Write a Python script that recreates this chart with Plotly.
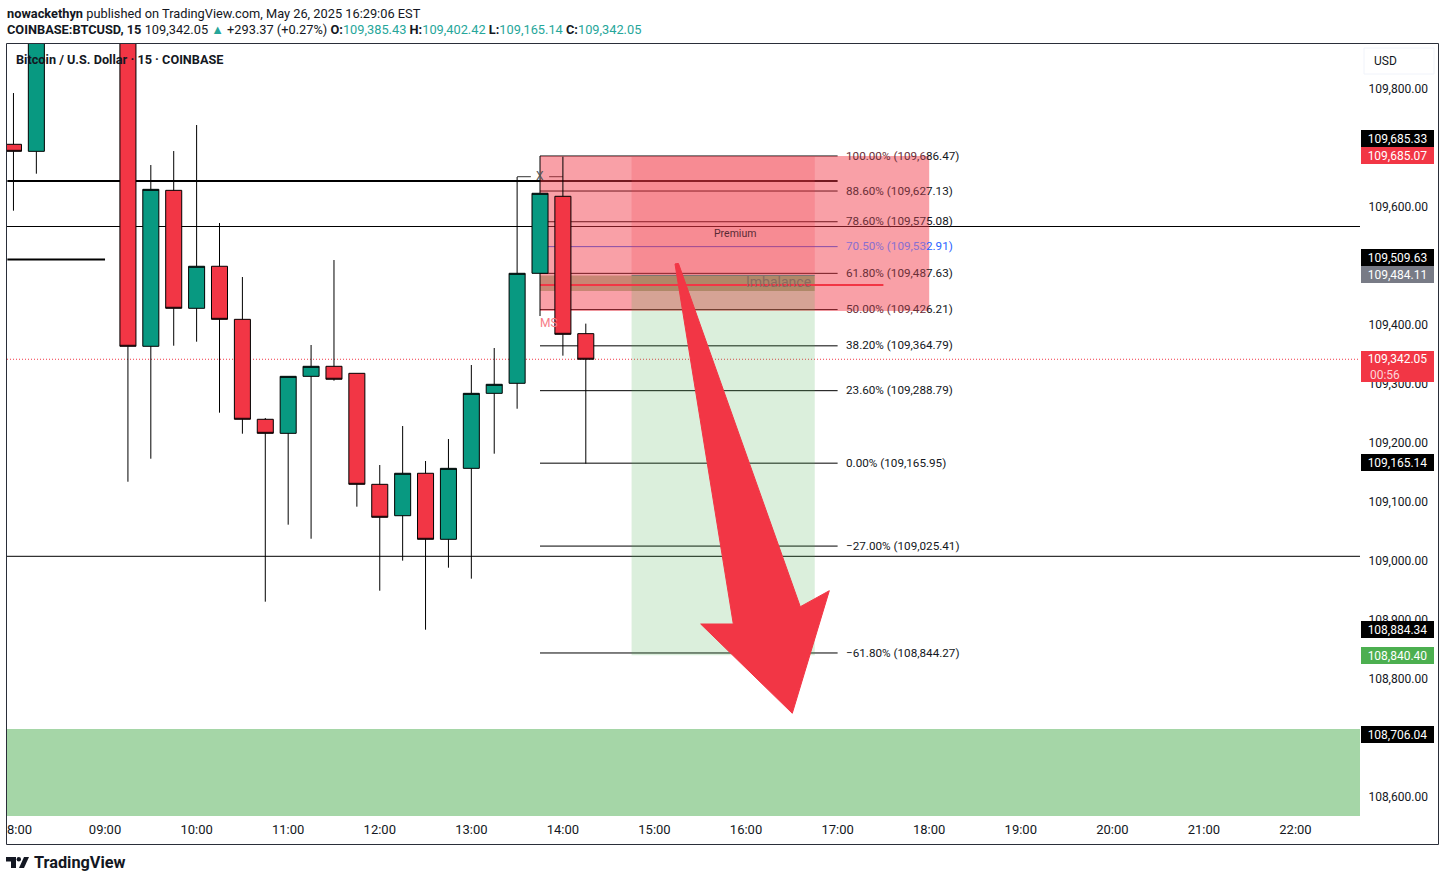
import plotly.graph_objects as go

# =========================
# DATA
# =========================
day = "2025-05-26 "
times = ["08:00", "08:15", "09:15", "09:30", "09:45", "10:00", "10:15", "10:30", "10:45",
         "11:00", "11:15", "11:30", "11:45", "12:00", "12:15", "12:30", "12:45",
         "13:00", "13:15", "13:30", "13:45", "14:00", "14:15"]
opens = [109706.3, 109694.4, 110050.0, 109364.0, 109628.3, 109428.4, 109499.6, 109409.7, 109240.3,
         109216.5, 109313.1, 109330.1, 109318.2, 109130.1, 109076.9, 109148.8, 109036.9,
         109157.2, 109284.3, 109301.3, 109487.7, 109618.2, 109385.43]
highs = [109793.2, 109990.0, 110080.0, 109671.2, 109694.9, 109739.0, 109572.9, 109481.4, 109242.5,
         109313.1, 109366.2, 109510.2, 109318.2, 109162.8, 109228.9, 109169.6, 109206.9,
         109332.3, 109361.1, 109650.9, 109686.5, 109685.3, 109402.42]
lows = [109593.8, 109656.5, 109134.5, 109173.5, 109365.0, 109371.8, 109251.5, 109215.9, 108931.2,
        109061.7, 109037.9, 109305.7, 109092.2, 108949.8, 109000.7, 108883.7, 108988.8,
        108970.2, 109182.0, 109258.2, 109415.3, 109348.1, 109165.14]
closes = [109694.4, 109960.0, 109364.0, 109630.0, 109428.4, 109499.6, 109409.7, 109240.3, 109216.5,
          109313.1, 109330.1, 109308.1, 109130.1, 109074.2, 109148.8, 109036.9, 109157.2,
          109284.3, 109299.6, 109487.7, 109623.3, 109384.3, 109342.05]

price_ticks = [109800, 109600, 109400, 109300, 109200, 109100, 109000, 108900, 108800, 108600]
time_ticks = ["09:00", "10:00", "11:00", "12:00", "13:00", "14:00", "15:00", "16:00",
              "17:00", "18:00", "19:00", "20:00", "21:00", "22:00"]

fib_levels = ["100.00%", "88.60%", "78.60%", "70.50%", "61.80%", "50.00%", "38.20%",
              "23.60%", "0.00%", "\u221227.00%", "\u221261.80%"]
fib_prices = [109686.47, 109627.13, 109575.08, 109532.91, 109487.63, 109426.21, 109364.79,
              109288.79, 109165.95, 109025.41, 108844.27]

stop_price = 109685.07
entry_price = 109484.11
target_price = 108840.40
last_price = 109342.05

side_labels = ["109,685.33", "109,685.07", "109,509.63", "109,484.11", "109,165.14",
               "108,884.34", "108,840.40", "108,706.04"]
side_colors = ["#000000", "#f23645", "#000000", "#787b86", "#000000",
               "#000000", "#4caf50", "#000000"]
side_rows = [139, 156, 258, 275, 463, 630, 656, 735]

# =========================
# SCALES
# =========================
L, R, T, B = 7, 1360, 44, 816
FONT = "Roboto"


def px(x):
    return (x - L) / (R - L)


def py(y):
    return (B - y) / (B - T)


def t(hhmm):
    return day + hhmm


fig = go.Figure()
fig.add_trace(go.Candlestick(
    x=[t(v) for v in times], open=opens, high=highs, low=lows, close=closes,
    increasing=dict(fillcolor="#089981", line=dict(color="#000000", width=1)),
    decreasing=dict(fillcolor="#f23645", line=dict(color="#000000", width=1)),
    whiskerwidth=0, hoverinfo="skip", showlegend=False,
))

shapes = []


def hline(price, x0=None, x1=None, color="#000000", width=1, dash="solid", layer="below"):
    if x0 is None:
        shapes.append(dict(type="line", xref="paper", yref="y", x0=0, x1=1, y0=price, y1=price,
                           line=dict(color=color, width=width, dash=dash), layer=layer))
    else:
        shapes.append(dict(type="line", xref="x", yref="y", x0=t(x0), x1=t(x1), y0=price, y1=price,
                           line=dict(color=color, width=width, dash=dash), layer=layer))


def box(x0, x1, y0, y1, fill, layer="below"):
    shapes.append(dict(type="rect", xref="x", yref="y", x0=t(x0), x1=t(x1), y0=y0, y1=y1,
                       fillcolor=fill, line=dict(width=0), layer=layer))


# green zone at the bottom
shapes.append(dict(type="rect", xref="paper", yref="y", x0=0, x1=1, y0=108715.5, y1=108568,
                   fillcolor="#a5d6a7", line=dict(width=0), layer="below"))

# horizontal levels
hline(109567.0)
hline(109008.1)
hline(109644.1, "07:56", "17:00", width=2)
hline(109511.0, "07:56", "09:00", width=2)
hline(last_price, color="#f23645", dash="1px,2px")
hline(109651.4, "13:30", "13:39", color="#333333")
hline(109651.4, "13:51", "14:00", color="#333333")

# fib lines
for lvl, price in zip(fib_levels, fib_prices):
    hline(price, "13:45", "17:00", color="#2962ff" if lvl == "70.50%" else "#000000")

# premium box, position tool, imbalance
box("13:45", "18:00", 109686.47, 109424.0, "rgba(242,54,69,0.47)")
box("14:45", "16:45", stop_price, entry_price, "rgba(242,54,69,0.2)")
box("14:45", "16:45", entry_price, target_price, "rgba(76,175,80,0.2)")
hline(entry_price, "14:45", "16:45", color="#787b86")
box("13:45", "16:45", entry_price, 109457.7, "rgba(86,77,0,0.3)")
hline(109467.9, "13:45", "17:30", color="#f23645", width=2)

# arrow
arrow = [(676.7, 263.5), (678.5, 263.5), (800.3, 606.7), (829.3, 590.7), (792.3, 713.3),
         (700.7, 624), (733.3, 624), (675, 264)]
path = "M " + " L ".join(f"{px(a):.5f},{py(b):.5f}" for a, b in arrow) + " Z"
shapes.append(dict(type="path", xref="paper", yref="paper", path=path, fillcolor="#f23645",
                   line=dict(color="#f23645", width=1), layer="above"))

# frame and USD box
shapes.append(dict(type="rect", xref="paper", yref="paper", x0=px(6.5), x1=px(1438.5),
                   y0=py(43.5), y1=py(844.5), line=dict(color="#2a2e39", width=1), layer="above"))
shapes.append(dict(type="rect", xref="paper", yref="paper", x0=px(1364), x1=px(1434),
                   y0=py(48), y1=py(74), line=dict(color="#f0f3fa", width=1), layer="below"))

# TradingView logo
logo_t = [(6, 857), (16, 857), (16, 868), (11, 868), (11, 861.5), (6, 861.5)]
logo_s = [(24, 857), (29, 857), (24, 868), (19, 868)]
for pts in (logo_t, logo_s):
    shapes.append(dict(type="path", xref="paper", yref="paper",
                       path="M " + " L ".join(f"{px(a):.5f},{py(b):.5f}" for a, b in pts) + " Z",
                       fillcolor="#131722", line=dict(width=0)))
shapes.append(dict(type="circle", xref="paper", yref="paper", x0=px(16.6), x1=px(21),
                   y0=py(857), y1=py(861.4), fillcolor="#131722", line=dict(width=0)))

annotations = []


def note(x, y, text, size=12, color="#131722", xanchor="left", align="left", **kw):
    annotations.append(dict(xref="paper", yref="paper", x=px(x), y=py(y), text=text, showarrow=False,
                            xanchor=xanchor, yanchor="middle", align=align,
                            font=dict(family=FONT, size=size, color=color), borderpad=0, **kw))


# header
teal = "#26a69a"
head_size = 12.8
note(6, 13, "<b>nowackethyn</b> published on TradingView.com, May 26, 2025 16:29:06 EST", size=head_size)
note(6, 30, "<b>COINBASE:BTCUSD, 15</b> 109,342.05 "
            f"<span style='color:{teal}'>\u25b2</span> +293.37 (+0.27%) "
            f"<b>O:</b><span style='color:{teal}'>109,385.43</span> "
            f"<b>H:</b><span style='color:{teal}'>109,402.42</span> "
            f"<b>L:</b><span style='color:{teal}'>109,165.14</span> "
            f"<b>C:</b><span style='color:{teal}'>109,342.05</span>", size=head_size)
note(15, 60, "<b>Bitcoin / U.S. Dollar \u00b7 15 \u00b7 COINBASE</b>", size=12.7)

# fib labels
for lvl, price in zip(fib_levels, fib_prices):
    label = f"{lvl} ({price:,.2f})"
    y = 155.6 + (fib_prices[0] - price) * 0.5901
    if price > 109420:
        head, tail = label[:14], label[14:]
        if lvl == "70.50%":
            text = f"<span style='color:#8a6fd0'>{head}</span><span style='color:#2962ff'>{tail}</span>"
        else:
            text = f"<span style='color:#6b2f38'>{head}</span><span style='color:#131722'>{tail}</span>"
    else:
        text = label
    note(844.5, y, text, size=11.7)

note(735, 233, "Premium", size=10.5, color="#5a2a35", xanchor="center")
note(778, 282, "Imbalance", size=14, color="#8a6a60", xanchor="center")
note(539, 323, "MS", size=12, color="#f77c86")
note(539.5, 176, "X", size=12, color="#555555", xanchor="center")

# price tags
for text, color, row in zip(side_labels, side_colors, side_rows):
    note(1361, row - 0.5, text, color="#ffffff", bgcolor=color, width=73, height=17, borderwidth=0,
         align="center")
note(1361, 358.5, "109,342.05", color="#ffffff", bgcolor="#f23645", width=73, height=16, borderwidth=0,
     align="center")
note(1361, 374, "&nbsp;&nbsp;&nbsp;00:56", color="#fcd5d9", bgcolor="#f23645", width=73, height=15,
     borderwidth=0)
note(1373, 61, "USD")
note(6, 829, "8:00", size=13)
note(33, 862, "<b>TradingView</b>", size=16.3)

fig.update_layout(
    width=1445, height=881, autosize=False,
    margin=dict(l=L, r=1445 - R, t=T, b=881 - B, pad=0),
    paper_bgcolor="#ffffff", plot_bgcolor="#ffffff",
    font=dict(family=FONT, size=12, color="#131722"),
    showlegend=False, hovermode=False, dragmode=False,
    boxgap=0.3, boxgroupgap=0,
    shapes=shapes, annotations=annotations,
)
fig.update_xaxes(
    type="date", range=[t("07:55:46"), t("22:42:16")], rangeslider_visible=False,
    tickmode="array", tickvals=[t(v) for v in time_ticks], ticktext=time_ticks,
    tickfont=dict(size=13), showgrid=False, zeroline=False, showline=False,
    ticks="outside", ticklen=1, tickcolor="rgba(0,0,0,0)",
)
fig.update_yaxes(
    side="right", range=[108568.0, 109876.3],
    tickmode="array", tickvals=price_ticks, ticktext=[f"{v:,.2f}" for v in price_ticks],
    showgrid=False, zeroline=False, showline=False,
    ticks="outside", ticklen=5, tickcolor="rgba(0,0,0,0)",
)

# body default margin would push the chart 8px right/down
fig.write_html("out.html", post_script="document.body.style.margin='0';",
               config={"displayModeBar": False})
